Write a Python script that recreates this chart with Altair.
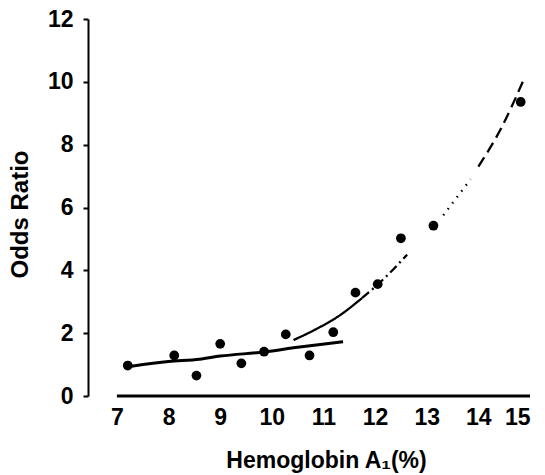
import altair as alt
import pandas as pd

# Observed points
hba1 = [7.21, 8.11, 8.54, 9.0, 9.41, 9.85, 10.27, 10.73, 11.19, 11.62, 12.05, 12.5, 13.13, 14.82]
odds = [0.97, 1.29, 0.65, 1.66, 1.04, 1.41, 1.96, 1.29, 2.03, 3.29, 3.56, 5.02, 5.42, 9.36]

# Solid (linear) fit
lin_x = [7.28, 8.0, 8.6, 9.0, 9.85, 10.5, 11.38]
lin_y = [0.95, 1.10, 1.17, 1.27, 1.40, 1.55, 1.73]

# Curved fit, split into the drawn segments
curve_x = [10.42, 10.8, 11.3, 11.75, 11.75, 12.2, 12.62, 13.32, 13.85, 14.0, 14.45, 14.86]
curve_y = [1.78, 2.08, 2.55, 3.12, 3.12, 3.78, 4.50, 5.75, 6.90, 7.30, 8.55, 10.0]
curve_seg = ["a", "a", "a", "a", "b", "b", "b", "c", "c", "d", "d", "d"]

x_ticks = [7, 8, 9, 10, 11, 12, 13, 14, 15]
y_ticks = list(range(0, 13))

FONT = "Liberation Sans"

xs = alt.Scale(domain=[6.44, 15], nice=False, zero=False)
ys = alt.Scale(domain=[0, 12], nice=False)

x_axis = alt.Axis(
    values=x_ticks, domain=False, ticks=False, tickSize=0, grid=False,
    labelFont=FONT, labelFontSize=23, labelFontWeight="bold", labelColor="black",
    labelPadding=10,
    title="Hemoglobin A₁(%)", titleFont=FONT, titleFontSize=23, titleFontWeight="bold",
    titleColor="black", titleX=238, titleY=64, titleAlign="center", titleBaseline="middle",
)
y_axis = alt.Axis(
    values=y_ticks, grid=False, domainColor="black", domainWidth=2,
    tickColor="black", tickWidth=2,
    tickSize={"condition": {"test": "datum.value % 2 === 0", "value": 5}, "value": 2},
    labelExpr="datum.value % 2 === 0 ? datum.label : ''",
    labelFont=FONT, labelFontSize=23, labelFontWeight="bold", labelColor="black",
    labelPadding=10,
    title="Odds Ratio", titleFont=FONT, titleFontSize=24, titleFontWeight="bold",
    titleColor="black", titleX=-68, titleY=195, titleAlign="center", titleBaseline="middle",
)

pts_df = pd.DataFrame({"x": hba1, "y": odds})
lin_df = pd.DataFrame({"x": lin_x, "y": lin_y})
cur_df = pd.DataFrame({"x": curve_x, "y": curve_y, "seg": curve_seg})
base_df = pd.DataFrame({"x": [x_ticks[0]], "x2": [x_ticks[-1]], "y": [0]})

points = alt.Chart(pts_df).mark_circle(size=95, color="black", opacity=1).encode(
    x=alt.X("x:Q", scale=xs, axis=x_axis),
    y=alt.Y("y:Q", scale=ys, axis=y_axis),
)

linear = alt.Chart(lin_df).mark_line(color="black", strokeWidth=3, interpolate="monotone").encode(
    x=alt.X("x:Q", scale=xs), y=alt.Y("y:Q", scale=ys)
)

curve = alt.Chart(cur_df).mark_line(color="black", strokeWidth=2.3, interpolate="monotone").encode(
    x=alt.X("x:Q", scale=xs),
    y=alt.Y("y:Q", scale=ys),
    strokeDash=alt.StrokeDash(
        "seg:N",
        scale=alt.Scale(domain=["a", "b", "c", "d"],
                        range=[[1, 0], [9, 4, 2, 4], [1.5, 6], [11, 6]]),
        legend=None,
    ),
)

baseline = alt.Chart(base_df).mark_rule(color="black", strokeWidth=3).encode(
    x=alt.X("x:Q", scale=xs), x2="x2:Q", y=alt.Y("y:Q", scale=ys)
)

chart = (
    alt.layer(baseline, linear, curve, points)
    .properties(
        width=442, height=377,
        padding={"left": 88, "top": 19, "right": 15, "bottom": 79},
        autosize="none", background="white",
    )
    .configure_view(stroke=None)
)

chart.save("out.html", embed_options={"renderer": "svg", "actions": False})
